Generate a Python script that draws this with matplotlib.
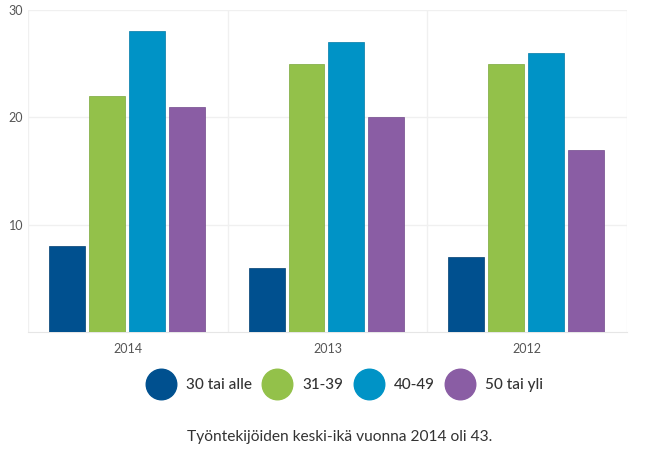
import matplotlib.pyplot as plt
from matplotlib.lines import Line2D
import numpy as np

years = ["2014", "2013", "2012"]
groups = ["30 tai alle", "31-39", "40-49", "50 tai yli"]
values = [
    [8, 6, 7],
    [22, 25, 25],
    [28, 27, 26],
    [21, 20, 17],
]
colors = ["#00508f", "#93c14a", "#0093c6", "#8a5da4"]
edges = ["#003e70", "#7aa83a", "#0079a6", "#72498b"]
caption = "Työntekijöiden keski-ikä vuonna 2014 oli 43."

plt.rcParams['font.family'] = ['Lato', 'DejaVu Sans']

fig = plt.figure(figsize=(6.49, 4.55), dpi=100)
ax = fig.add_axes([0.0431, 0.2703, 0.9229, 0.7077])

x = np.arange(len(years))
w = 0.18
step = 0.2
for i, g in enumerate(groups):
    ax.bar(x + (i - 1.5) * step - 0.005, values[i], width=w, color=colors[i],
           edgecolor=edges[i], linewidth=0.5, zorder=3)

ax.set_xlim(-0.5, 2.5)
ax.set_ylim(0, 30)
ax.set_yticks([10, 20, 30])
ax.set_xticks(x)
ax.set_xticklabels(years)
ax.set_xticks([-0.5, 0.5, 1.5, 2.5], minor=True)
ax.grid(axis='y', color='#f0f0f0', linewidth=1, zorder=0)
ax.grid(axis='x', which='minor', color='#f0f0f0', linewidth=1, zorder=0)
ax.tick_params(axis='both', which='both', length=0, colors='#555555', labelsize=9)
ax.tick_params(axis='x', pad=8)
for s in ['top', 'right', 'left']:
    ax.spines[s].set_visible(False)
ax.spines['bottom'].set_color('#e6e6e6')

handles = [Line2D([], [], marker='o', linestyle='', markersize=22,
                  markerfacecolor=c, markeredgecolor=c) for c in colors]
fig.legend(handles, groups, loc='center', bbox_to_anchor=(0.533, 0.154), ncol=4,
           frameon=False, fontsize=11, handletextpad=0.85, columnspacing=0.85,
           handlelength=1.6, labelcolor='#333333',
           prop={'size': 11, 'weight': 'medium'})

fig.text(0.524, 0.04, caption, ha='center', va='center', fontsize=11.2, color='#333333')

fig.savefig("out.png", dpi=100)
